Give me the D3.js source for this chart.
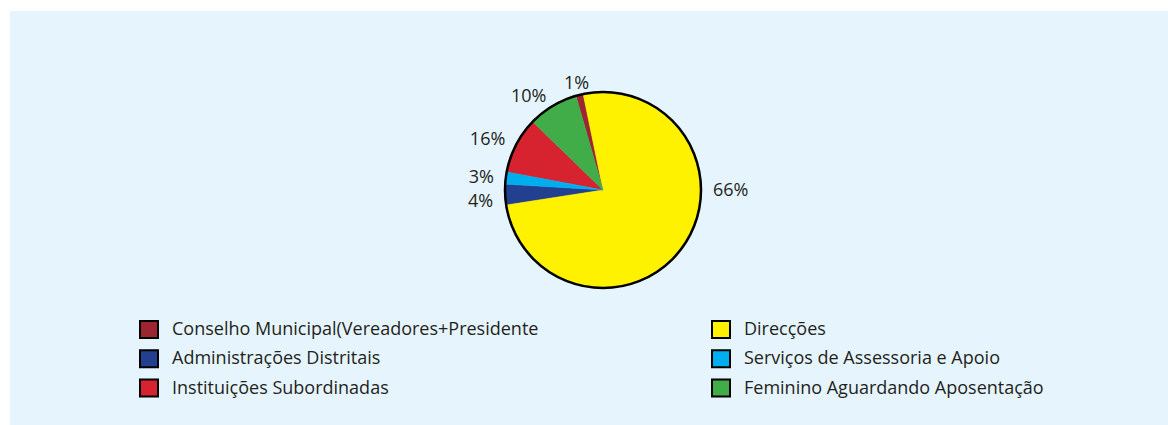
<!DOCTYPE html>
<html>
<head>
<meta charset="utf-8">
<script src="https://cdn.jsdelivr.net/npm/d3@7"></script>
<style>
  html, body { margin: 0; padding: 0; background: #fff; }
  svg text { font-family: "Open Sans", "Noto Sans", sans-serif; fill: #231f20; }
</style>
</head>
<body>
<div id="chart"></div>
<script>
// legend order (two columns, top to bottom)
var categories = [
    "Conselho Municipal(Vereadores+Presidente",
    "Administrações Distritais",
    "Instituições Subordinadas",
    "Direcções",
    "Serviços de Assessoria e Apoio",
    "Feminino Aguardando Aposentação"
];
// slice sizes as drawn (share of the circle, %)
var values = [1.2, 3.4, 9.3, 75.8, 2.0, 8.3];
// the labels printed next to the slices
var labels = ["1%", "4%", "16%", "66%", "3%", "10%"];
var colors = ["#9b2530", "#22408f", "#d7232f", "#fff200", "#00aeef", "#40ad49"];
// clockwise order round the pie
var pieOrder = [3, 1, 4, 2, 5, 0];

const W = 1168, H = 425;
const cx = 603, cy = 190, radius = 98;
const fontSize = 18;

var svg = d3.select('#chart')
    .append('svg')
    .attr('width', W)
    .attr('height', H);

svg.append('rect')
    .attr('x', 10).attr('y', 11)
    .attr('width', W - 10).attr('height', H - 11)
    .style('fill', '#e6f5fd');

var pie = d3.pie()
    .value(function(i) { return values[i]; })
    .sort(function(a, b) { return pieOrder.indexOf(a) - pieOrder.indexOf(b); })
    .startAngle(-11.7 * Math.PI / 180)
    .endAngle(-11.7 * Math.PI / 180 + 2 * Math.PI);

var arc = d3.arc().innerRadius(0).outerRadius(radius);
var arcs = pie(d3.range(categories.length));

var g = svg.append('g').attr('transform', 'translate(' + cx + ',' + cy + ')');

g.selectAll('path.slice').data(arcs).enter()
    .append('path')
    .attr('class', 'slice')
    .attr('d', arc)
    .style('fill', function(d) { return colors[d.data]; })
    .style('stroke', function(d) { return colors[d.data]; })
    .style('stroke-width', 0.5);

g.append('circle')
    .attr('r', radius)
    .style('fill', 'none')
    .style('stroke', '#000')
    .style('stroke-width', 2.5);

// labels outside the slices
const labelR = 110;
var placed = arcs.map(function(d) {
    var a = (d.startAngle + d.endAngle) / 2;
    // big slice covering 3 o'clock: label sits on the right
    if (d.startAngle < Math.PI / 2 && d.endAngle > Math.PI / 2 && d.endAngle - d.startAngle > Math.PI) a = Math.PI / 2;
    var s = Math.sin(a), c = Math.cos(a);
    return {
        d: d,
        x: labelR * s,
        y: -labelR * c + 6,
        anchor: s < -0.3 ? 'end' : (s > 0.3 ? 'start' : 'middle')
    };
});
// push apart labels on the same side that would overlap
['end', 'start'].forEach(function(side) {
    var list = placed.filter(function(p) { return p.anchor === side; })
        .sort(function(a, b) { return a.y - b.y; });
    for (var i = 1; i < list.length; i++) {
        if (list[i].y - list[i - 1].y < 24) list[i].y = list[i - 1].y + 24;
    }
});

g.selectAll('text.pct').data(placed).enter()
    .append('text')
    .attr('class', 'pct')
    .attr('x', function(p) { return p.x; })
    .attr('y', function(p) { return p.y; })
    .attr('text-anchor', function(p) { return p.anchor; })
    .style('font-size', fontSize + 'px')
    .text(function(p) { return labels[p.d.data]; });

// legend
var colX = d3.scalePoint().domain([0, 1]).range([139, 711]);
var rowY = d3.scalePoint().domain([0, 1, 2]).range([329.5, 388]);

var item = svg.selectAll('.item').data(categories).enter()
    .append('g')
    .attr('class', 'item')
    .attr('transform', function(d, i) {
        return 'translate(' + colX(Math.floor(i / 3)) + ',' + rowY(i % 3) + ')';
    });

item.append('rect')
    .attr('x', 1).attr('y', -8.5)
    .attr('width', 18).attr('height', 17)
    .style('fill', function(d, i) { return colors[i]; })
    .style('stroke', '#000')
    .style('stroke-width', 2);

item.append('text')
    .attr('x', 33)
    .attr('y', 5.5)
    .style('font-size', fontSize + 'px')
    .text(function(d) { return d; });
</script>
</body>
</html>
